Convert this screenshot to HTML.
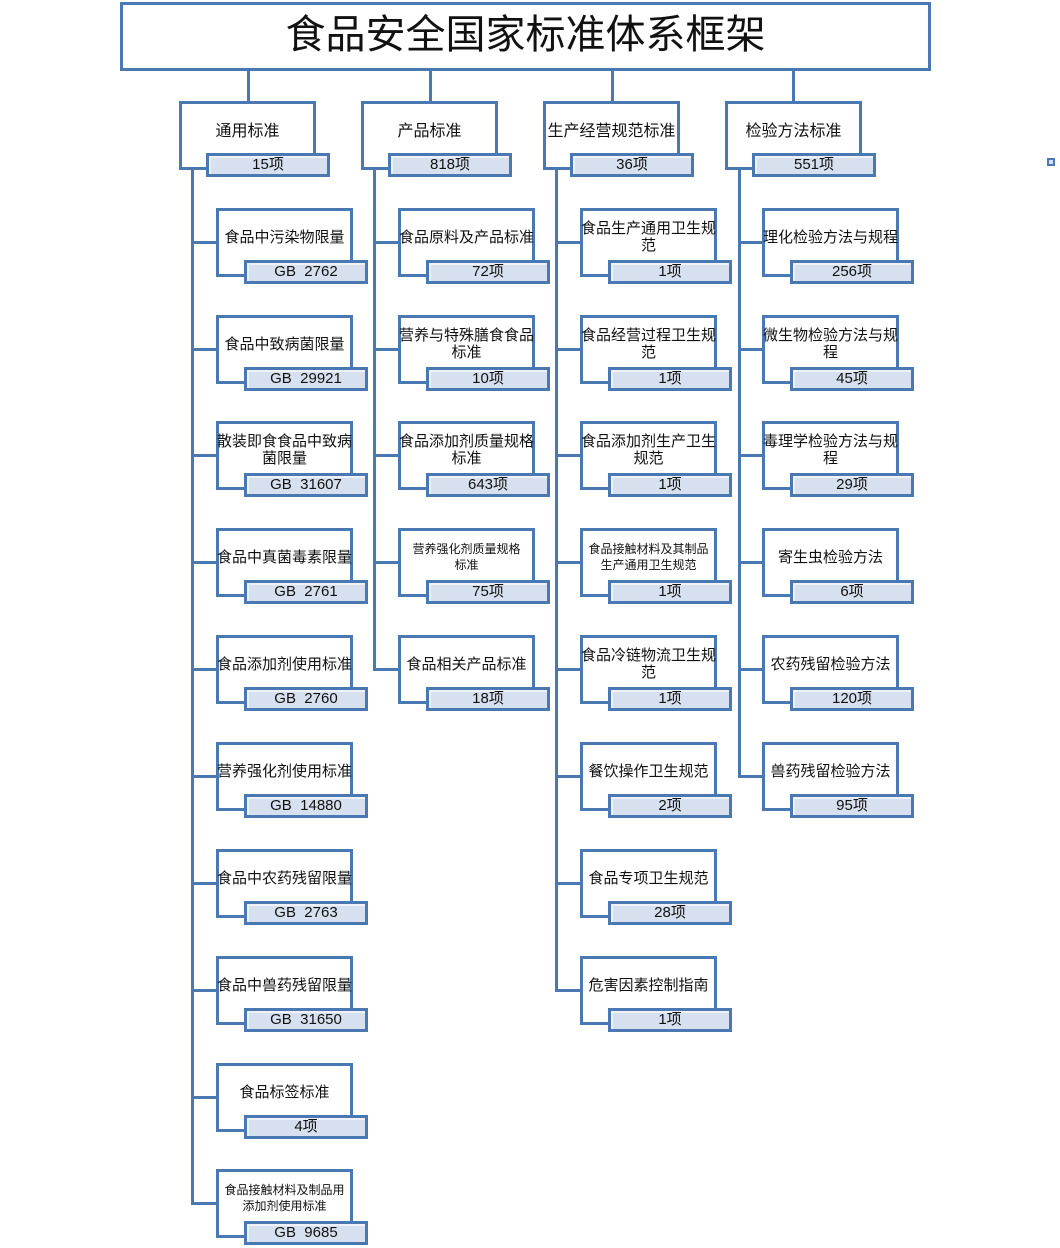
<!DOCTYPE html>
<html><head><meta charset="utf-8"><style>
body{margin:0;width:1060px;height:1248px;background:#fff;position:relative;overflow:hidden;font-family:"Liberation Sans","Noto Sans CJK SC",sans-serif;color:#111}
.b{position:absolute;border:3px solid #4a78b3;background:#fff;box-sizing:border-box}
.t{position:absolute;left:-3px;right:-3px;top:0;display:flex;align-items:center;justify-content:center;text-align:center;line-height:17px}
.s{width:137px;height:69px}
.s .t{height:52px;font-size:15px}
.s .t.sm{font-size:12px;line-height:16px}
.g{position:absolute;border:3px solid #4a78b3;background:#d7e0ee;box-sizing:border-box;width:124px;height:24px;font-size:15px;text-align:center;line-height:18px;box-shadow:inset 2px 2px 0 #eef2f8;white-space:pre}
.l{position:absolute;background:#4a78b3}
</style></head><body>
<div class="b" style="left:120px;top:2px;width:811px;height:69px"><div class="t" style="height:60px;font-size:40px">食品安全国家标准体系框架</div></div>
<div class="l" style="left:247px;top:70px;width:3px;height:32px"></div>
<div class="l" style="left:429px;top:70px;width:3px;height:32px"></div>
<div class="l" style="left:611px;top:70px;width:3px;height:32px"></div>
<div class="l" style="left:792px;top:70px;width:3px;height:32px"></div>

<div class="l" style="left:191px;top:169px;width:3px;height:1036px"></div>
<div class="l" style="left:373px;top:169px;width:3px;height:502px"></div>
<div class="l" style="left:555px;top:169px;width:3px;height:823px"></div>
<div class="l" style="left:738px;top:169px;width:3px;height:609px"></div>

<div class="b s" style="left:179px;top:101px"><div class="t" style="font-size:16px;height:54px">通用标准</div></div><div class="g" style="left:206px;top:153px">15项</div>
<div class="b s" style="left:361px;top:101px"><div class="t" style="font-size:16px;height:54px">产品标准</div></div><div class="g" style="left:388px;top:153px">818项</div>
<div class="b s" style="left:543px;top:101px"><div class="t" style="font-size:16px;height:54px">生产经营规范标准</div></div><div class="g" style="left:570px;top:153px">36项</div>
<div class="b s" style="left:725px;top:101px"><div class="t" style="font-size:16px;height:54px">检验方法标准</div></div><div class="g" style="left:752px;top:153px">551项</div>

<!-- column 1 -->
<div class="l" style="left:191px;top:241px;width:26px;height:3px"></div><div class="b s" style="left:216px;top:208px"><div class="t">食品中污染物限量</div></div><div class="g" style="left:244px;top:260px">GB  2762</div>
<div class="l" style="left:191px;top:348px;width:26px;height:3px"></div><div class="b s" style="left:216px;top:315px"><div class="t">食品中致病菌限量</div></div><div class="g" style="left:244px;top:367px">GB  29921</div>
<div class="l" style="left:191px;top:454px;width:26px;height:3px"></div><div class="b s" style="left:216px;top:421px"><div class="t">散装即食食品中致病<br>菌限量</div></div><div class="g" style="left:244px;top:473px">GB  31607</div>
<div class="l" style="left:191px;top:561px;width:26px;height:3px"></div><div class="b s" style="left:216px;top:528px"><div class="t">食品中真菌毒素限量</div></div><div class="g" style="left:244px;top:580px">GB  2761</div>
<div class="l" style="left:191px;top:668px;width:26px;height:3px"></div><div class="b s" style="left:216px;top:635px"><div class="t">食品添加剂使用标准</div></div><div class="g" style="left:244px;top:687px">GB  2760</div>
<div class="l" style="left:191px;top:775px;width:26px;height:3px"></div><div class="b s" style="left:216px;top:742px"><div class="t">营养强化剂使用标准</div></div><div class="g" style="left:244px;top:794px">GB  14880</div>
<div class="l" style="left:191px;top:882px;width:26px;height:3px"></div><div class="b s" style="left:216px;top:849px"><div class="t">食品中农药残留限量</div></div><div class="g" style="left:244px;top:901px">GB  2763</div>
<div class="l" style="left:191px;top:989px;width:26px;height:3px"></div><div class="b s" style="left:216px;top:956px"><div class="t">食品中兽药残留限量</div></div><div class="g" style="left:244px;top:1008px">GB  31650</div>
<div class="l" style="left:191px;top:1096px;width:26px;height:3px"></div><div class="b s" style="left:216px;top:1063px"><div class="t">食品标签标准</div></div><div class="g" style="left:244px;top:1115px">4项</div>
<div class="l" style="left:191px;top:1202px;width:26px;height:3px"></div><div class="b s" style="left:216px;top:1169px"><div class="t sm">食品接触材料及制品用<br>添加剂使用标准</div></div><div class="g" style="left:244px;top:1221px">GB  9685</div>

<!-- column 2 -->
<div class="l" style="left:373px;top:241px;width:26px;height:3px"></div><div class="b s" style="left:398px;top:208px"><div class="t">食品原料及产品标准</div></div><div class="g" style="left:426px;top:260px">72项</div>
<div class="l" style="left:373px;top:348px;width:26px;height:3px"></div><div class="b s" style="left:398px;top:315px"><div class="t">营养与特殊膳食食品<br>标准</div></div><div class="g" style="left:426px;top:367px">10项</div>
<div class="l" style="left:373px;top:454px;width:26px;height:3px"></div><div class="b s" style="left:398px;top:421px"><div class="t">食品添加剂质量规格<br>标准</div></div><div class="g" style="left:426px;top:473px">643项</div>
<div class="l" style="left:373px;top:561px;width:26px;height:3px"></div><div class="b s" style="left:398px;top:528px"><div class="t sm">营养强化剂质量规格<br>标准</div></div><div class="g" style="left:426px;top:580px">75项</div>
<div class="l" style="left:373px;top:668px;width:26px;height:3px"></div><div class="b s" style="left:398px;top:635px"><div class="t">食品相关产品标准</div></div><div class="g" style="left:426px;top:687px">18项</div>

<!-- column 3 -->
<div class="l" style="left:555px;top:241px;width:26px;height:3px"></div><div class="b s" style="left:580px;top:208px"><div class="t">食品生产通用卫生规<br>范</div></div><div class="g" style="left:608px;top:260px">1项</div>
<div class="l" style="left:555px;top:348px;width:26px;height:3px"></div><div class="b s" style="left:580px;top:315px"><div class="t">食品经营过程卫生规<br>范</div></div><div class="g" style="left:608px;top:367px">1项</div>
<div class="l" style="left:555px;top:454px;width:26px;height:3px"></div><div class="b s" style="left:580px;top:421px"><div class="t">食品添加剂生产卫生<br>规范</div></div><div class="g" style="left:608px;top:473px">1项</div>
<div class="l" style="left:555px;top:561px;width:26px;height:3px"></div><div class="b s" style="left:580px;top:528px"><div class="t sm">食品接触材料及其制品<br>生产通用卫生规范</div></div><div class="g" style="left:608px;top:580px">1项</div>
<div class="l" style="left:555px;top:668px;width:26px;height:3px"></div><div class="b s" style="left:580px;top:635px"><div class="t">食品冷链物流卫生规<br>范</div></div><div class="g" style="left:608px;top:687px">1项</div>
<div class="l" style="left:555px;top:775px;width:26px;height:3px"></div><div class="b s" style="left:580px;top:742px"><div class="t">餐饮操作卫生规范</div></div><div class="g" style="left:608px;top:794px">2项</div>
<div class="l" style="left:555px;top:882px;width:26px;height:3px"></div><div class="b s" style="left:580px;top:849px"><div class="t">食品专项卫生规范</div></div><div class="g" style="left:608px;top:901px">28项</div>
<div class="l" style="left:555px;top:989px;width:26px;height:3px"></div><div class="b s" style="left:580px;top:956px"><div class="t">危害因素控制指南</div></div><div class="g" style="left:608px;top:1008px">1项</div>

<!-- column 4 -->
<div class="l" style="left:738px;top:241px;width:25px;height:3px"></div><div class="b s" style="left:762px;top:208px"><div class="t">理化检验方法与规程</div></div><div class="g" style="left:790px;top:260px">256项</div>
<div class="l" style="left:738px;top:348px;width:25px;height:3px"></div><div class="b s" style="left:762px;top:315px"><div class="t">微生物检验方法与规<br>程</div></div><div class="g" style="left:790px;top:367px">45项</div>
<div class="l" style="left:738px;top:454px;width:25px;height:3px"></div><div class="b s" style="left:762px;top:421px"><div class="t">毒理学检验方法与规<br>程</div></div><div class="g" style="left:790px;top:473px">29项</div>
<div class="l" style="left:738px;top:561px;width:25px;height:3px"></div><div class="b s" style="left:762px;top:528px"><div class="t">寄生虫检验方法</div></div><div class="g" style="left:790px;top:580px">6项</div>
<div class="l" style="left:738px;top:668px;width:25px;height:3px"></div><div class="b s" style="left:762px;top:635px"><div class="t">农药残留检验方法</div></div><div class="g" style="left:790px;top:687px">120项</div>
<div class="l" style="left:738px;top:775px;width:25px;height:3px"></div><div class="b s" style="left:762px;top:742px"><div class="t">兽药残留检验方法</div></div><div class="g" style="left:790px;top:794px">95项</div>

<div style="position:absolute;left:1047px;top:158px;width:4px;height:4px;border:2px solid #4a78b3;background:#d7e0ee"></div>
</body></html>
